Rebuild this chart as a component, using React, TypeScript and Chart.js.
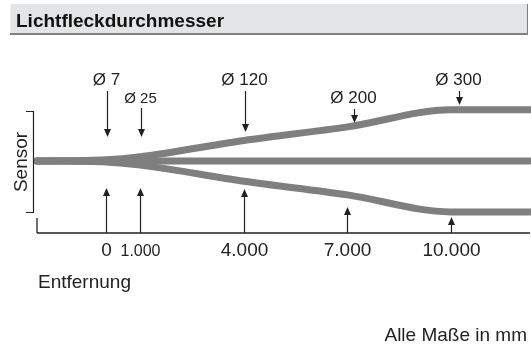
import React, { useEffect, useRef } from "react";
import { Chart, registerables } from "chart.js";

Chart.register(...registerables);

// Beam geometry (distance in mm, spot diameter in mm)
const beamDistance = [-2000, 0, 1000, 4000, 7000, 10000, 12290];
const beamDiameter = [0, 7, 25, 120, 200, 300, 300];

// Axis ticks / markers
const tickPositions = [0, 1000, 4000, 7000, 10000];
const tickLabels = ["0", "1.000", "4.000", "7.000", "10.000"];

// Diameter annotations
const diamPositions = [0, 1000, 4000, 7150, 10200];
const diamLabels = ["Ø 7", "Ø 25", "Ø 120", "Ø 200", "Ø 300"];

const titleText = "Lichtfleckdurchmesser";
const xTitle = "Entfernung";
const yTitle = "Sensor";
const footnote = "Alle Maße in mm";

// layout (pixels)
const topArrowStart = [91, 108, 91, 109, 91];
const topArrowTip = [137, 137, 132, 123, 105];
const topLabelBase = [85, 103, 85, 103, 85];
const topLabelSize = [17, 15, 17, 17, 17];
const botArrowTip = [188, 188, 189, 207, 217];
const botLabelSize = [19, 16, 19, 19, 19];

const FONT = '"Liberation Sans", Arial, sans-serif';
const BEAM = "#7f7f7f";
const INK = "#222222";

function arrow(ctx: CanvasRenderingContext2D, x: number, y0: number, y1: number) {
  const dir = y1 > y0 ? 1 : -1;
  const head = 8;
  ctx.beginPath();
  ctx.moveTo(x, y0);
  ctx.lineTo(x, y1 - dir * head);
  ctx.stroke();
  ctx.beginPath();
  ctx.moveTo(x, y1);
  ctx.lineTo(x - 3.5, y1 - dir * head);
  ctx.lineTo(x + 3.5, y1 - dir * head);
  ctx.closePath();
  ctx.fill();
}

const decor = {
  id: "decor",
  beforeDraw(chart: any) {
    const ctx = chart.ctx as CanvasRenderingContext2D;
    ctx.save();
    ctx.fillStyle = "#ffffff";
    ctx.fillRect(0, 0, chart.width, chart.height);
    // header bar
    ctx.fillStyle = "#e3e4e6";
    ctx.fillRect(10, 4, 518, 30);
    ctx.fillStyle = "#808080";
    ctx.fillRect(10, 33, 518, 2);
    ctx.fillRect(527, 4, 1, 31);
    ctx.fillStyle = "#f2f2f2";
    ctx.fillRect(10, 4, 1, 29);
    ctx.fillStyle = "#111111";
    ctx.font = `bold 19px ${FONT}`;
    ctx.textAlign = "left";
    ctx.textBaseline = "alphabetic";
    ctx.fillText(titleText, 16, 27);
    ctx.restore();
  },
  afterDraw(chart: any) {
    const ctx = chart.ctx as CanvasRenderingContext2D;
    const xs = chart.scales.x;
    const area = chart.chartArea;
    ctx.save();
    ctx.strokeStyle = INK;
    ctx.fillStyle = INK;
    ctx.lineWidth = 1.3;

    // x axis
    const axisY = area.bottom;
    ctx.beginPath();
    ctx.moveTo(area.left, axisY);
    ctx.lineTo(area.right, axisY);
    ctx.moveTo(area.left, axisY);
    ctx.lineTo(area.left, axisY - 15);
    ctx.stroke();

    // bottom arrows and labels
    ctx.textAlign = "center";
    ctx.textBaseline = "alphabetic";
    tickPositions.forEach((v, i) => {
      const x = Math.round(xs.getPixelForValue(v)) + 0.5;
      ctx.lineWidth = 1.2;
      arrow(ctx, x, axisY, botArrowTip[i]);
      ctx.font = `${botLabelSize[i]}px ${FONT}`;
      ctx.fillText(tickLabels[i], x, 256);
    });

    // top arrows and labels
    diamPositions.forEach((v, i) => {
      const x = Math.round(xs.getPixelForValue(v)) + 1.5;
      ctx.lineWidth = 1.2;
      arrow(ctx, x, topArrowStart[i], topArrowTip[i]);
      ctx.font = `${topLabelSize[i]}px ${FONT}`;
      ctx.fillText(diamLabels[i], x - 1, topLabelBase[i]);
    });

    // axis title
    ctx.textAlign = "left";
    ctx.font = `19px ${FONT}`;
    ctx.fillText(xTitle, 38, 288);

    // footnote
    ctx.textAlign = "right";
    ctx.font = `19px ${FONT}`;
    ctx.fillText(footnote, 527, 341);

    // sensor bracket
    ctx.lineWidth = 1.2;
    ctx.beginPath();
    ctx.moveTo(26, 111.5);
    ctx.lineTo(33.5, 111.5);
    ctx.lineTo(33.5, 212.5);
    ctx.lineTo(26, 212.5);
    ctx.stroke();

    ctx.save();
    ctx.translate(27, 162);
    ctx.rotate(-Math.PI / 2);
    ctx.textAlign = "center";
    ctx.font = `19px ${FONT}`;
    ctx.fillText(yTitle, 0, 0);
    ctx.restore();

    ctx.restore();
  },
};

export default function App() {
  const ref = useRef<HTMLCanvasElement | null>(null);
  useEffect(() => {
    if (!ref.current) return;
    const upper = beamDistance.map((x, i) => ({ x, y: beamDiameter[i] / 2 }));
    const lower = beamDistance.map((x, i) => ({ x, y: -beamDiameter[i] / 2 }));
    const center = [
      { x: beamDistance[0], y: 0 },
      { x: beamDistance[beamDistance.length - 1], y: 0 },
    ];
    const ds = (data: any) => ({
      data,
      borderColor: BEAM,
      backgroundColor: BEAM,
      borderWidth: 7,
      borderCapStyle: "round",
      borderJoinStyle: "round",
      pointRadius: 0,
      cubicInterpolationMode: "monotone",
      fill: false,
      clip: false,
    });
    const chart = new Chart(ref.current, {
      type: "line",
      data: { datasets: [ds(center), ds(upper), ds(lower)] as any },
      options: {
        animation: false,
        responsive: false,
        devicePixelRatio: 1,
        layout: { padding: { left: 37, right: 1, top: 35, bottom: 117 } },
        plugins: { legend: { display: false }, tooltip: { enabled: false } },
        scales: {
          x: { type: "linear", min: -2000, max: 12290, display: false },
          y: { type: "linear", min: -212, max: 370, display: false },
        },
      } as any,
      plugins: [decor],
    });
    return () => chart.destroy();
  }, []);
  return (
    <div style={{ position: "absolute", left: 0, top: 0, width: 531, height: 350 }}>
      <canvas ref={ref} width={531} height={350} style={{ display: "block" }} />
    </div>
  );
}
